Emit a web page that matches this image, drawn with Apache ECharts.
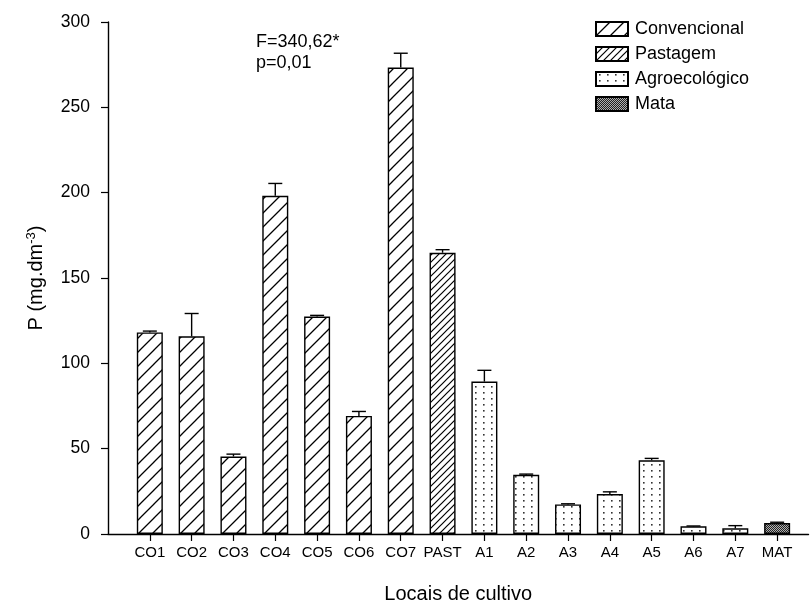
<!DOCTYPE html>
<html>
<head>
<meta charset="utf-8">
<script src="https://cdn.jsdelivr.net/npm/echarts@6/dist/echarts.min.js"></script>
<style>
  html, body { margin: 0; padding: 0; background: #fff; }
  #chart { width: 811px; height: 609px; }
</style>
</head>
<body>
<div id="chart"></div>
<script>
// Sites, the management group of each site, mean P and its standard error
const categories = ['CO1', 'CO2', 'CO3', 'CO4', 'CO5', 'CO6', 'CO7', 'PAST',
                    'A1', 'A2', 'A3', 'A4', 'A5', 'A6', 'A7', 'MAT'];
const groups = ['Convencional', 'Pastagem', 'Agroecológico', 'Mata'];
const groupOf = [0, 0, 0, 0, 0, 0, 0, 1, 2, 2, 2, 2, 2, 2, 2, 3];
const means = [118.1, 115.8, 45.4, 198.2, 127.4, 69.2, 273.3, 164.8,
               89.3, 34.7, 17.3, 23.4, 43.2, 4.5, 3.3, 6.4];
const errors = [0.8, 13.4, 1.4, 7.2, 0.7, 2.6, 8.4, 1.8,
                6.6, 0.4, 0.4, 1.3, 1.1, 0.2, 1.6, 0.5];
const statText = ['F=340,62*', 'p=0,01'];

const FONT = '"Liberation Sans", Arial, Helvetica, sans-serif';

// ---- fill patterns ----
function tile(w, h, draw) {
  const c = document.createElement('canvas');
  c.width = w; c.height = h;
  const ctx = c.getContext('2d');
  ctx.fillStyle = '#fff';
  ctx.fillRect(0, 0, w, h);
  draw(ctx, w, h);
  return { image: c, repeat: 'repeat' };
}
function diagonal(step, lw) {
  return tile(step, step, (ctx, s) => {
    ctx.strokeStyle = '#000';
    ctx.lineWidth = lw;
    ctx.beginPath();
    ctx.moveTo(-2, s + 2); ctx.lineTo(s + 2, -2);
    ctx.moveTo(-2, 2); ctx.lineTo(2, -2);
    ctx.moveTo(s - 2, s + 2); ctx.lineTo(s + 2, s - 2);
    ctx.stroke();
  });
}
const dotted = tile(8, 6, (ctx) => {
  ctx.fillStyle = '#333';
  ctx.fillRect(3, 2, 1.6, 1.6);
});
const checker = tile(2, 2, (ctx) => {
  ctx.fillStyle = '#b0b0b0';
  ctx.fillRect(0, 0, 2, 2);
  ctx.fillStyle = '#222';
  ctx.fillRect(0, 0, 1, 1);
  ctx.fillRect(1, 1, 1, 1);
});
const fills = [diagonal(14, 1.3), diagonal(7, 1.2), dotted, checker];

// ---- series ----
const barSeries = groups.map((g, gi) => ({
  name: g,
  type: 'bar',
  barWidth: 26,
  barGap: '-100%',
  data: categories.map((c, i) => groupOf[i] === gi ? [i + 1, means[i]] : null).filter(Boolean),
  itemStyle: { color: fills[gi], borderColor: '#000', borderWidth: 1.4 },
  emphasis: { disabled: true },
  z: 2
}));

const errorSeries = {
  type: 'custom',
  name: 'erro',
  z: 5,
  data: categories.map((c, i) => [i + 1, means[i], errors[i]]),
  encode: { x: 0, y: 1 },
  renderItem: (params, api) => {
    const x = api.value(0), m = api.value(1), e = api.value(2);
    const p0 = api.coord([x, m]);
    const p1 = api.coord([x, m + e]);
    const half = 7;
    const st = { stroke: '#000', lineWidth: 1.4 };
    return {
      type: 'group',
      children: [
        { type: 'line', shape: { x1: p0[0], y1: p0[1], x2: p1[0], y2: p1[1] }, style: st },
        { type: 'line', shape: { x1: p1[0] - half, y1: p1[1], x2: p1[0] + half, y2: p1[1] }, style: st }
      ]
    };
  }
};

const tickPositions = categories.map((c, i) => i + 1);

const chart = echarts.init(document.getElementById('chart'), null, { renderer: 'canvas' });
chart.setOption({
  animation: false,
  backgroundColor: '#fff',
  textStyle: { fontFamily: FONT },
  grid: { left: 108, right: 2.5, top: 22, bottom: 74, containLabel: false },
  xAxis: {
    type: 'value',
    min: 0,
    max: 16.75,
    name: 'Locais de cultivo',
    nameLocation: 'middle',
    nameGap: 50,
    nameTextStyle: { fontSize: 20, color: '#000', fontFamily: FONT },
    axisLine: { lineStyle: { color: '#000', width: 1.4 } },
    axisTick: { show: true, length: 7, customValues: tickPositions, lineStyle: { color: '#000', width: 1.2 } },
    axisLabel: {
      customValues: tickPositions,
      formatter: v => categories[Math.round(v) - 1] || '',
      fontSize: 15, color: '#000', margin: 11, fontFamily: FONT
    },
    splitLine: { show: false }
  },
  yAxis: {
    type: 'value',
    min: 0,
    max: 300,
    interval: 50,
    name: '{a|P (mg.dm}{s|-3}{a|)}',
    nameLocation: 'middle',
    nameRotate: 90,
    nameGap: 60,
    nameTextStyle: {
      color: '#000',
      rich: {
        a: { fontSize: 20, fontFamily: FONT, color: '#000' },
        s: { fontSize: 13, fontFamily: FONT, color: '#000', padding: [0, 0, 10, 0] }
      }
    },
    axisLine: { show: true, lineStyle: { color: '#000', width: 1.4 } },
    axisTick: { show: true, length: 7, lineStyle: { color: '#000', width: 1.2 } },
    axisLabel: { fontSize: 17.5, color: '#000', margin: 18, fontFamily: FONT },
    splitLine: { show: false }
  },
  legend: {
    data: groups,
    orient: 'vertical',
    left: 590,
    top: 15,
    itemWidth: 32,
    itemHeight: 14,
    itemGap: 7,
    icon: 'rect',
    selectedMode: false,
    textStyle: { fontSize: 18, color: '#000', fontFamily: FONT, padding: [0, 0, 0, 2] }
  },
  graphic: [
    { type: 'text', left: 256, top: 33, style: { text: statText[0], fontSize: 18, fontFamily: FONT, fill: '#000' } },
    { type: 'text', left: 256, top: 54, style: { text: statText[1], fontSize: 18, fontFamily: FONT, fill: '#000' } }
  ],
  series: [...barSeries, errorSeries]
});
</script>
</body>
</html>
